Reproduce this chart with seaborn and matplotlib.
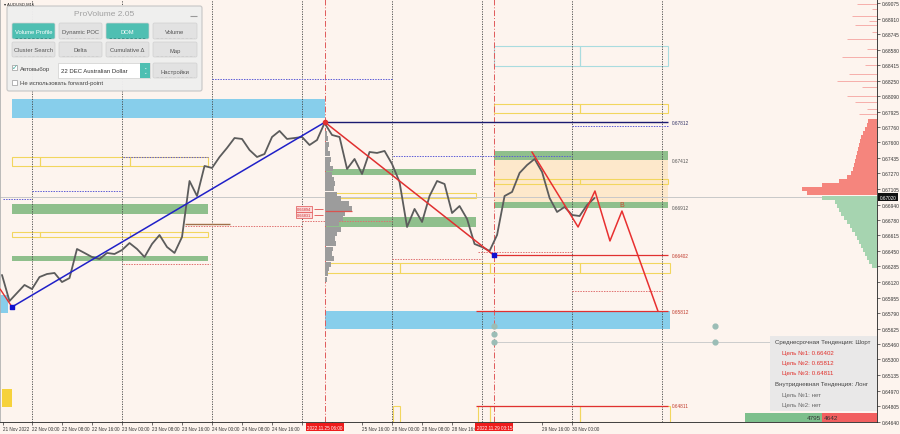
import numpy as np
import pandas as pd
import seaborn as sns

from matplotlib import pyplot as plt
from matplotlib import transforms
from matplotlib.patches import Rectangle, FancyBboxPatch

# time axis: trading hours from 22 Nov 2022 00:00 (weekend removed)
HOURS = list(range(-8, 151, 2))
CLOSE = [0.66195, 0.65919, 0.66004, 0.66089, 0.66046, 0.66173, 0.66205, 0.66216, 0.66120, 0.66162,
         0.66470, 0.66428, 0.66385, 0.66364, 0.66428, 0.66417, 0.66459, 0.66533, 0.66470, 0.66385,
         0.66523, 0.66618, 0.66491, 0.66428, 0.66597, 0.67190, 0.67031, 0.67349, 0.67328, 0.67444,
         0.67540, 0.67645, 0.67635, 0.67518, 0.67444, 0.67476, 0.67656, 0.67720, 0.67635, 0.67645,
         0.67656, 0.67571, 0.67624, 0.67804, 0.67677, 0.67656, 0.67317, 0.67423, 0.67264, 0.67497,
         0.67487, 0.67508, 0.67370, 0.67179, 0.66703, 0.66894, 0.66756, 0.67031, 0.67190, 0.67158,
         0.66851, 0.66925, 0.66788, 0.66523, 0.66491, 0.66449, 0.66618, 0.67031, 0.67074, 0.67275,
         0.67359, 0.67423, 0.67285, 0.67010, 0.66862, 0.66915, 0.66830, 0.66819, 0.66936, 0.67010]
LAST_PRICE = 0.67020

# labels hidden under the red time tags are left blank
TICK_HOURS = [-7.7, 0, 8, 16, 24, 32, 40, 48, 56, 64, 72, 80, 88, 96, 104, 112, 120, 128, 136, 144]
TICK_LABELS = ['21 Nov 2022', '22 Nov 00:00', '22 Nov 08:00', '22 Nov 16:00', '23 Nov 00:00',
               '23 Nov 08:00', '23 Nov 16:00', '24 Nov 00:00', '24 Nov 08:00', '24 Nov 16:00',
               '', '', '25 Nov 16:00', '28 Nov 00:00', '28 Nov 08:00',
               '28 Nov 16:00', '', '', '29 Nov 16:00', '30 Nov 00:00']
DAY_LINES = [0, 24, 48, 72, 96, 120, 144, 168]
PRICE_TICKS = [0.69075, 0.68910, 0.68745, 0.68580, 0.68415, 0.68250, 0.68090, 0.67925, 0.67760,
               0.67600, 0.67435, 0.67270, 0.67105, 0.66940, 0.66780, 0.66615, 0.66450, 0.66285,
               0.66120, 0.65955, 0.65790, 0.65625, 0.65460, 0.65300, 0.65135, 0.64970, 0.64805,
               0.64640]

# pivots and trend lines
PIVOT_LOW = (-5.33, 0.65856)
PIVOT_HIGH = (78.1, 0.67812)
PIVOT_LOW2 = (123.2, 0.66402)
LEAD_IN_T = [-8.5, -5.33]
LEAD_IN_P = [0.66046, 0.65856]
FORECAST_T = [133.3, 145.6, 150.1, 154.1, 157.3, 166.9]
FORECAST_P = [0.67497, 0.66703, 0.67084, 0.66555, 0.66872, 0.65812]
LEVEL_END = 169.6
TARGETS = [0.66402, 0.65812, 0.64811]
TARGET_START = [123.2, 118.4, 118.4]
SIDE_LABELS = [('0.67812', 0.67812, '#333366'), ('0.67412', 0.67412, '#555555'),
               ('0.66912', 0.66912, '#555555'), ('0.66402', 0.66402, '#c0392b'),
               ('0.65812', 0.65812, '#c0392b'), ('0.64811', 0.64811, '#c0392b')]

# zones: (t0, t1, top, bottom)
BLUE_ZONES = [(-5.33, 78.1, 0.68058, 0.67857), (78.1, 170.1, 0.65813, 0.65623),
              (-8.5, -6.4, 0.65983, 0.65792)]
GOLD_ZONES = [(-8.0, -5.33, 0.64987, 0.64797)]
GREEN_ZONES = [(-5.33, 46.9, 0.66947, 0.66841), (-5.33, 46.9, 0.66396, 0.66343),
               (78.1, 118.4, 0.67317, 0.67254), (78.1, 118.4, 0.66809, 0.66703),
               (123.2, 169.6, 0.67508, 0.67412), (123.2, 169.6, 0.66968, 0.66904)]
ORANGE_ZONES = [(123.2, 169.6, 0.67412, 0.66968)]
YELLOW_BOXES = [(-5.33, 2.1, 0.67444, 0.67349), (2.1, 26.1, 0.67444, 0.67349), (26.1, 46.9, 0.67444, 0.67349),
                (-5.33, 2.1, 0.66650, 0.66597), (2.1, 26.1, 0.66650, 0.66597), (26.1, 46.9, 0.66650, 0.66597),
                (78.1, 118.4, 0.67063, 0.67010),
                (78.1, 98.1, 0.66322, 0.66216), (98.1, 122.1, 0.66322, 0.66216),
                (122.1, 146.1, 0.66322, 0.66216), (146.1, 170.1, 0.66322, 0.66216),
                (123.2, 146.1, 0.68005, 0.67910), (146.1, 169.6, 0.68005, 0.67910),
                (123.2, 146.1, 0.67211, 0.67158), (146.1, 169.6, 0.67211, 0.67158),
                (96.3, 98.1, 0.64807, 0.64640), (118.9, 122.1, 0.64807, 0.64640),
                (122.1, 146.1, 0.64807, 0.64640), (146.1, 170.1, 0.64807, 0.64640)]
CYAN_BOXES = [(123.2, 146.1, 0.68620, 0.68408), (146.1, 169.6, 0.68620, 0.68408)]

# dotted levels: (t0, t1, price)
BLUE_DOTS = [(-7.7, 0, 0.67000), (0, 24, 0.67084), (24.3, 46.9, 0.67444), (48, 96, 0.68270),
             (96.3, 144, 0.67455), (144, 169.6, 0.67773)]
RED_DOTS = [(24.3, 47.5, 0.66311), (40.8, 72, 0.66713), (72, 96, 0.66767), (96, 120, 0.66364),
            (119, 144, 0.66438), (144, 168, 0.66025)]
BROWN_LINE = (40.8, 52.8, 0.66735)

# volume profile from 25 Nov 06:00
VP_PRICE = [0.6769, 0.6764, 0.6758, 0.6753, 0.6748, 0.6742, 0.6737, 0.6732, 0.6726, 0.6721,
            0.6716, 0.6711, 0.6705, 0.6700, 0.6695, 0.6690, 0.6684, 0.6679, 0.6674, 0.6668,
            0.6663, 0.6658, 0.6653, 0.6647, 0.6642, 0.6637, 0.6631, 0.6626, 0.6621, 0.6615]
VP_WIDTH = [0.5, 0.8, 1.1, 0.8, 1.3, 1.6, 1.3, 2.1, 1.9, 2.4, 2.7, 2.4, 3.2, 4.3, 6.4,
            7.2, 5.3, 4.8, 3.7, 4.3, 3.2, 2.7, 2.9, 2.1, 1.9, 2.4, 1.6, 1.1, 0.8, 0.5]
POC = 0.66872

# DOM profile at right edge
SELL_PRICE = [0.67825, 0.67783, 0.67741, 0.67698, 0.67656, 0.67614, 0.67571, 0.67529, 0.67487, 0.67444,
              0.67402, 0.67360, 0.67317, 0.67275, 0.67232, 0.67190, 0.67148, 0.67105, 0.67063]
SELL_WIDTH = [2.4, 2.7, 3.2, 3.7, 4.3, 4.5, 4.8, 5.1, 5.3, 5.6, 5.9, 6.1, 6.4, 6.9, 8.0, 10.1, 14.7, 20.0, 18.7]
BUY_PRICE = [0.67010, 0.66968, 0.66925, 0.66883, 0.66841, 0.66798, 0.66756, 0.66713, 0.66671,
             0.66629, 0.66586, 0.66544, 0.66502, 0.66459, 0.66417, 0.66375, 0.66332, 0.66290]
BUY_WIDTH = [14.7, 11.2, 10.7, 10.1, 9.6, 8.8, 8.0, 7.2, 6.7, 5.9, 5.3, 4.8, 4.3, 3.7, 3.2, 2.7, 2.1, 1.3]
THIN_PRICE = [0.69064, 0.69012, 0.68937, 0.68885, 0.68843, 0.68768, 0.68694, 0.68588, 0.68503,
              0.68418, 0.68323, 0.68249, 0.68186, 0.68090, 0.68027, 0.67953, 0.67900]
THIN_WIDTH = [5.3, 1.3, 6.7, 2.1, 5.9, 1.3, 8.0, 2.7, 9.3, 3.2, 7.5, 10.7, 4.0, 8.0, 5.9, 2.7, 4.8]

MARKERS_T = [123.2, 123.2, 123.2, 182.1, 182.1]
MARKERS_P = [0.65655, 0.65570, 0.65485, 0.65655, 0.65485]

INFO_LINES = [('Среднесрочная Тенденция: Шорт', '#444444', 0),
              ('Цель №1: 0.66402', '#e0302b', 1), ('Цель №2: 0.65812', '#e0302b', 1),
              ('Цель №3: 0.64811', '#e0302b', 1),
              ('Внутридневная Тенденция: Лонг', '#444444', 0),
              ('Цель №1: нет', '#666666', 1), ('Цель №2: нет', '#666666', 1)]
BUY_VOLUME, SELL_VOLUME = 4795, 4642

XMIN, XMAX = -8.53, 225.3
YMIN, YMAX = 0.64638, 0.69117
BG = '#fdf4ee'


def main():
    sns.set_theme(style='white')
    plt.rcParams['font.family'] = ['Liberation Sans', 'DejaVu Sans']

    fig = plt.figure(figsize=(9, 4.35), dpi=100, facecolor=BG)
    ax = fig.add_axes([0, 12 / 435, 877 / 900, 423 / 435])
    ax.set_facecolor(BG)

    for t0, t1, top, bot in ORANGE_ZONES:
        ax.fill_between([t0, t1], bot, top, color='#fde4c0', alpha=0.75, lw=0, zorder=1)
    for t0, t1, top, bot in BLUE_ZONES:
        ax.fill_between([t0, t1], bot, top, color='#87ceeb', lw=0, zorder=1.2)
    for t0, t1, top, bot in GOLD_ZONES:
        ax.fill_between([t0, t1], bot, top, color='#f6d23c', lw=0, zorder=1.2)
    for t0, t1, top, bot in GREEN_ZONES:
        ax.fill_between([t0, t1], bot, top, color='#8fbf8c', lw=0, zorder=1.3)
    for t0, t1, top, bot in YELLOW_BOXES:
        ax.add_patch(Rectangle((t0, bot), t1 - t0, top - bot, fill=False, ec='#f2d65e', lw=0.8, zorder=1.4))
    for t0, t1, top, bot in CYAN_BOXES:
        ax.add_patch(Rectangle((t0, bot), t1 - t0, top - bot, fill=False, ec='#a9dcdf', lw=0.8, zorder=1.4))

    for d in DAY_LINES:
        ax.axvline(d, color='#444444', ls=(0, (1.5, 1.5)), lw=0.6, zorder=1.5)
    for t in (PIVOT_HIGH[0], PIVOT_LOW2[0]):
        ax.axvline(t, color='#e05a5a', ls=(0, (6, 2, 1, 2)), lw=0.7, zorder=1.5)

    ax.axhline(LAST_PRICE, color='#c8c8c8', lw=0.7, zorder=1.5)
    ax.hlines(MARKERS_P[2], MARKERS_T[0], 196.8, color='#cccccc', lw=0.7, zorder=1.5)

    for t0, t1, p in BLUE_DOTS:
        ax.hlines(p, t0, t1, color='#5b5bd6', ls=(0, (1.5, 1.2)), lw=0.7, zorder=1.6)
    for t0, t1, p in RED_DOTS:
        ax.hlines(p, t0, t1, color='#e07070', ls=(0, (1.5, 1.2)), lw=0.7, zorder=1.6)
    ax.hlines(BROWN_LINE[2], BROWN_LINE[0], BROWN_LINE[1], color='#a0704a', lw=1, zorder=1.6)

    # volume profile
    ax.barh(VP_PRICE, VP_WIDTH, left=PIVOT_HIGH[0], height=0.00052, color='#9c9c9c', lw=0, zorder=1.7)
    ax.hlines(POC, PIVOT_HIGH[0], PIVOT_HIGH[0] + 7.2, color='#d9534f', lw=0.9, zorder=1.8)

    # DOM on the right
    ax.barh(SELL_PRICE, SELL_WIDTH, left=[XMAX - w for w in SELL_WIDTH], height=0.00044,
            color='#f5857d', lw=0, zorder=1.7)
    ax.barh(BUY_PRICE, BUY_WIDTH, left=[XMAX - w for w in BUY_WIDTH], height=0.00044,
            color='#a6d4b0', lw=0, zorder=1.7)
    ax.hlines(THIN_PRICE, [XMAX - w for w in THIN_WIDTH], XMAX, color='#f5a3a0', lw=0.6, zorder=1.7)

    # price
    df = pd.DataFrame({'hour': HOURS, 'close': CLOSE})
    sns.lineplot(data=df, x='hour', y='close', ax=ax, color='#5c5c5c', lw=1.3, zorder=3)

    # trend lines and targets
    ax.plot([PIVOT_LOW[0], PIVOT_HIGH[0]], [PIVOT_LOW[1], PIVOT_HIGH[1]], color='#2020c8', lw=1.1, zorder=4)
    ax.plot([PIVOT_HIGH[0], PIVOT_LOW2[0]], [PIVOT_HIGH[1], PIVOT_LOW2[1]], color='#e03030', lw=1.1, zorder=4)
    ax.plot(LEAD_IN_T, LEAD_IN_P, color='#e03030', lw=1, zorder=4)
    ax.plot(FORECAST_T, FORECAST_P, color='#e83030', lw=1.1, zorder=4)
    ax.hlines(PIVOT_HIGH[1], PIVOT_HIGH[0], LEVEL_END, color='#1a1a70', lw=1, zorder=4)
    ax.hlines(TARGETS, TARGET_START, LEVEL_END, color='#e03030', lw=0.9, zorder=4)
    for txt, p, c in SIDE_LABELS:
        ax.text(LEVEL_END + 1.0, p, txt, fontsize=3.4, color=c, va='center', ha='left', zorder=5)
    ax.text(FORECAST_T[4], 0.66945, 'B', fontsize=5, color='#d04a30', ha='center', va='center', zorder=5)

    ax.scatter([PIVOT_LOW[0], PIVOT_LOW2[0]], [PIVOT_LOW[1], PIVOT_LOW2[1]], marker='s', s=7,
               color='#1010d0', zorder=6)
    ax.scatter([PIVOT_HIGH[0]], [PIVOT_HIGH[1]], s=9, color='#e03030', zorder=6)
    ax.scatter(MARKERS_T, MARKERS_P, s=12, color='#9bbdb6', zorder=6)

    # small price tags left of the profile
    for p, txt in ((0.66893, '0.66894'), (0.66830, '0.66831')):
        ax.text(72.5, p, txt, fontsize=2.8, color='#d03030', ha='center', va='center', zorder=6,
                bbox=dict(boxstyle='square,pad=0.25', fc='#fbdada', ec='#e05050', lw=0.5))
        ax.hlines(p, 75.3, 77.5, color='#e05050', lw=0.6, zorder=6)

    ax.set_xlim(XMIN, XMAX)
    ax.set_ylim(YMIN, YMAX)
    ax.set_xlabel('')
    ax.set_ylabel('')
    ax.set_xticks(TICK_HOURS, TICK_LABELS)
    for lbl in ax.get_xticklabels():
        lbl.set_ha('left')
    ax.yaxis.tick_right()
    ax.set_yticks(PRICE_TICKS, [f'{p:.5f}' for p in PRICE_TICKS])
    ax.tick_params(axis='x', labelsize=3.3, length=2, width=0.5, pad=1.2, colors='#333333', bottom=True)
    ax.tick_params(axis='y', labelsize=3.5, length=2, width=0.5, pad=1.5, colors='#333333', right=True)
    ax.spines['top'].set_visible(False)
    ax.spines['left'].set_color('#b0b0b0')
    ax.spines['right'].set_color('#222222')
    ax.spines['bottom'].set_color('#222222')
    for side in ('left', 'right', 'bottom'):
        ax.spines[side].set_linewidth(0.6)

    trans_x = transforms.blended_transform_factory(ax.transData, ax.transAxes)
    for t, txt in ((78.1, '2022.11.25 06:00'), (123.25, '2022.11.29 03:15')):
        ax.text(t, -0.006, txt, transform=trans_x, fontsize=3.3, color='white', ha='center', va='top',
                zorder=10, clip_on=False, bbox=dict(boxstyle='square,pad=0.3', fc='#ee1c1c', ec='none'))
    trans_y = transforms.blended_transform_factory(ax.transAxes, ax.transData)
    ax.text(1.003, LAST_PRICE, f'{LAST_PRICE:.5f}', transform=trans_y, fontsize=3.4, color='white',
            ha='left', va='center', zorder=10, clip_on=False,
            bbox=dict(boxstyle='square,pad=0.25', fc='#111111', ec='none'))

    # overlay in pixel units for the terminal widgets
    ui = fig.add_axes([0, 0, 1, 1])
    ui.set_xlim(0, 900)
    ui.set_ylim(435, 0)
    ui.axis('off')
    ui.patch.set_alpha(0)

    ui.text(4, 5, '▾ AUDUSD,M15', fontsize=3, color='#222222', va='center')
    ui.add_patch(FancyBboxPatch((7, 7), 195, 85, boxstyle='round,pad=0,rounding_size=2',
                                fc='#efefef', ec='#c4c4c4', lw=0.8, alpha=0.97, zorder=2))
    ui.text(104, 14.5, 'ProVolume 2.05', fontsize=6, color='#a0a0a0', ha='center', va='center', zorder=3)
    ui.hlines(17, 190, 197, color='#999999', lw=0.8, zorder=3)

    def button(x0, y0, x1, y1, text, on=False):
        face = '#4fbfb2' if on else '#e2e2e2'
        ui.add_patch(FancyBboxPatch((x0, y0), x1 - x0, y1 - y0, boxstyle='round,pad=0,rounding_size=1.5',
                                    fc=face, ec='#d0d0d0', lw=0.5, zorder=3))
        ui.text((x0 + x1) / 2, (y0 + y1) / 2 + 0.5, text, fontsize=4.2, ha='center', va='center',
                color='white' if on else '#555555', zorder=4)
        ui.hlines(y1 - 1.5, x0 + 3, x1 - 3, color='#2f8f85' if on else '#cfcfcf', lw=0.6,
                  ls=(0, (3, 2)), zorder=4)

    button(12, 24, 55, 40, 'Volume Profile', True)
    button(59, 24, 102, 40, 'Dynamic POC')
    button(106, 24, 149, 40, 'DOM', True)
    button(153, 24, 197, 40, 'Volume')
    button(12, 43, 55, 58, 'Cluster Search')
    button(59, 43, 102, 58, 'Delta')
    button(106, 43, 149, 58, 'Cumulative Δ')
    button(153, 43, 197, 58, 'Map')
    button(153, 64, 197, 79, 'Настройки')

    ui.add_patch(Rectangle((12, 66), 5, 5, fc='white', ec='#999999', lw=0.5, zorder=3))
    ui.text(14.8, 68.3, '✓', fontsize=5, color='#3aa89b', ha='center', va='center', zorder=4)
    ui.text(19.5, 70, 'Автовыбор', fontsize=4.3, color='#444444', va='center', zorder=4)
    ui.add_patch(Rectangle((58, 64), 92, 15, fc='white', ec='#cfcfcf', lw=0.5, zorder=3))
    ui.add_patch(Rectangle((140, 64), 10, 15, fc='#4fbfb2', ec='none', zorder=3.5))
    ui.text(145, 71.5, '⌃\n⌄', fontsize=3, color='white', ha='center', va='center', zorder=4, linespacing=0.6)
    ui.text(61, 71.5, '22 DEC Australian Dollar', fontsize=4.3, color='#333333', va='center', zorder=4)
    ui.add_patch(Rectangle((12, 81), 5, 5, fc='white', ec='#999999', lw=0.5, zorder=3))
    ui.text(19.5, 84, 'Не использовать forward-point', fontsize=4.3, color='#444444', va='center', zorder=4)

    # info box
    ui.add_patch(Rectangle((770, 337), 107, 75, fc='#e8e8e8', ec='none', alpha=0.95, zorder=2))
    for (txt, col, indent), y in zip(INFO_LINES, (343, 353, 363, 373, 385, 395, 405)):
        ui.text(775 + 7 * indent, y, txt, fontsize=4.4, color=col, va='center', zorder=3)

    # buy / sell volume bar
    ui.add_patch(Rectangle((745, 414), 77, 9, fc='#7dbf8c', ec='none', zorder=2))
    ui.add_patch(Rectangle((822, 414), 55, 9, fc='#f25f5f', ec='none', zorder=2))
    ui.text(821, 418.5, str(BUY_VOLUME), fontsize=4.6, color='#333333', ha='right', va='center', zorder=3)
    ui.text(823.5, 418.5, str(SELL_VOLUME), fontsize=4.6, color='#333333', ha='left', va='center', zorder=3)

    fig.savefig('out.png', dpi=100, facecolor=BG)


if __name__ == '__main__':
    main()
